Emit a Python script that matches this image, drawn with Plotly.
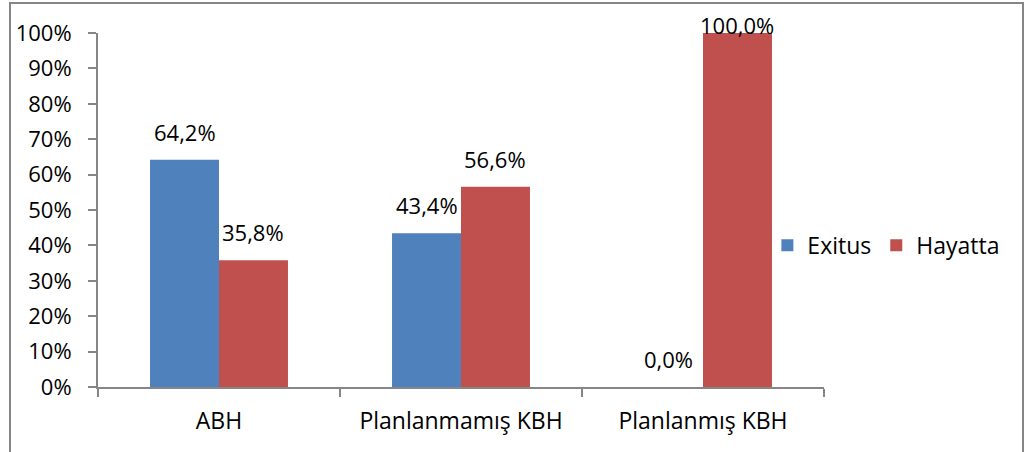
import plotly.graph_objects as go

categories = ["ABH", "Planlanmamış KBH", "Planlanmış KBH"]
exitus = [64.2, 43.4, 0.0]
hayatta = [35.8, 56.6, 100.0]
y_ticks = list(range(0, 101, 10))
y_tick_text = [f"{v}%" for v in y_ticks]

FONT = "Open Sans"
FONT_SIZE = 22
AXIS_GREY = "#868686"
COLORS = {"Exitus": "#4F81BD", "Hayatta": "#C0504D"}

# Plot-area geometry in pixels
W, H = 1026, 452
M_L, M_R, M_T, M_B = 98, 202, 33, 65
PLOT_W = W - M_L - M_R
PLOT_H = H - M_T - M_B
BARGAP = 0.43
PX_PER_PCT = PLOT_H / 100.0
BAR_PX = PLOT_W / len(categories) * (1 - BARGAP) / 2

fig = go.Figure()
for name, values in (("Exitus", exitus), ("Hayatta", hayatta)):
    fig.add_trace(go.Bar(
        name=name, x=categories, y=values,
        marker=dict(color=COLORS[name], line=dict(width=0)),
    ))

# Value labels above each bar, kept inside the chart frame
LABEL_GAP = 11
for offset, values in ((-BAR_PX / 2, exitus), (BAR_PX / 2, hayatta)):
    for cat, v in zip(categories, values):
        headroom = (100 - v) * PX_PER_PCT + 2
        fig.add_annotation(
            x=cat, y=v, xref="x", yref="y",
            text=f"{v:.1f}%".replace(".", ","),
            showarrow=False, xanchor="center", yanchor="bottom",
            xshift=offset, yshift=min(LABEL_GAP, headroom - 11),
            font=dict(family=FONT, size=FONT_SIZE, color="#000000"),
        )

fig.update_layout(
    width=W, height=H,
    margin=dict(l=M_L, r=M_R, t=M_T, b=M_B, autoexpand=False),
    paper_bgcolor="white", plot_bgcolor="white",
    separators=",.",
    barmode="group", bargap=BARGAP, bargroupgap=0,
    font=dict(family=FONT, size=FONT_SIZE, color="#000000"),
    showlegend=True,
    legend=dict(orientation="h", x=0.922, xanchor="left", y=0.40, yanchor="middle",
                font=dict(family=FONT, size=23), tracegroupgap=0,
                bgcolor="rgba(0,0,0,0)"),
)
fig.update_xaxes(
    showline=True, linecolor=AXIS_GREY, linewidth=2,
    ticks="outside", tickson="boundaries", ticklen=8, tickcolor=AXIS_GREY, tickwidth=2,
    ticklabelstandoff=12, showgrid=False,
    tickfont=dict(family=FONT, size=23),
)
fig.update_yaxes(
    range=[0, 100], tickmode="array", tickvals=y_ticks, ticktext=y_tick_text,
    showline=True, linecolor=AXIS_GREY, linewidth=2,
    ticks="outside", ticklen=8, tickcolor=AXIS_GREY, tickwidth=2,
    ticklabelstandoff=12, showgrid=False, zeroline=False,
)
# Chart frame
fig.add_shape(type="rect", xref="paper", yref="paper",
              x0=(10 - M_L) / PLOT_W, x1=(1023 - M_L) / PLOT_W,
              y0=-0.4, y1=(H - M_B - 3) / PLOT_H,
              line=dict(color=AXIS_GREY, width=2), fillcolor="rgba(0,0,0,0)", layer="below")

fig.write_html("out.html")
